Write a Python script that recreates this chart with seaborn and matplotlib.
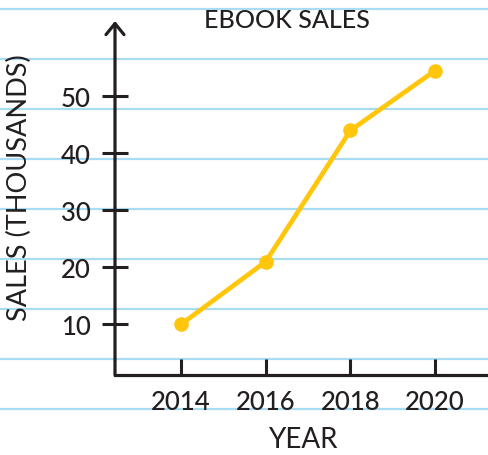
import matplotlib
matplotlib.use("Agg")
import matplotlib.pyplot as plt
import seaborn as sns
import pandas as pd

# Chart data
years = [2014, 2016, 2018, 2020]
sales = [10, 21, 44, 54.5]        # thousands of ebooks
y_ticks = [10, 20, 30, 40, 50]
x_ticks = [2014, 2016, 2018, 2020]

title = "EBOOK SALES"
x_label = "YEAR"
y_label = "SALES (THOUSANDS)"

INK = "#231f20"
YELLOW = "#ffc60b"
RULE = "#a8dcf2"

sns.set_theme(style="white")
plt.rcParams["font.family"] = ["Lato", "DejaVu Sans"]
plt.rcParams["font.weight"] = "medium"

W, H = 488, 456
fig = plt.figure(figsize=(W / 100, H / 100), dpi=100)
fig.patch.set_facecolor("white")

# Notebook paper ruling behind the chart
bg = fig.add_axes([0, 0, 1, 1], zorder=0)
bg.set_xlim(0, W)
bg.set_ylim(H, 0)
for y in range(10, H, 50):
    bg.axhline(y, color=RULE, lw=1.6)
bg.axis("off")

# Main chart area
left, top, bottom = 115, 22, 376
ax = fig.add_axes([left / W, (H - bottom) / H, (W - left) / W, (bottom - top) / H], zorder=1)
ax.set_facecolor("none")

df = pd.DataFrame({"year": years, "sales": sales})
sns.lineplot(data=df, x="year", y="sales", ax=ax, color=YELLOW, lw=3.4,
             marker="o", markersize=10.5, markeredgewidth=0, clip_on=False, zorder=3)

ax.set_xlim(2012.44, 2021.25)
ax.set_ylim(1.12, 63.2)
ax.set_xticks(x_ticks)
ax.set_yticks(y_ticks)
ax.set_xticklabels([str(v) for v in x_ticks])
ax.set_yticklabels([str(v) for v in y_ticks])

for side in ["top", "right", "left"]:
    ax.spines[side].set_visible(False)
ax.spines["bottom"].set_color(INK)
ax.spines["bottom"].set_linewidth(2.3)

# Vertical axis drawn as an arrow
ax.annotate("", xy=(0, 1), xytext=(0, 0), xycoords="axes fraction",
            arrowprops=dict(arrowstyle="->,head_length=0.8,head_width=0.65",
                            lw=2.3, color=INK, shrinkA=0, shrinkB=0,
                            mutation_scale=10))

ax.tick_params(axis="y", direction="inout", length=18.7, width=2.2, color=INK,
               pad=8, labelsize=18.5, labelcolor=INK, left=True)
ax.tick_params(axis="x", direction="in", length=11.5, width=2.2, color=INK,
               pad=10, labelsize=18.5, labelcolor=INK, bottom=True)

ax.set_xlabel(x_label, fontsize=20, color=INK, va="center")
ax.xaxis.set_label_coords(0.504, -0.181)
ax.set_ylabel(y_label, fontsize=19.5, color=INK, va="center", ha="center")
ax.yaxis.set_label_coords(-0.257, 0.531)

ax.text(0.461, 1.0056, title, transform=ax.transAxes, ha="center", va="center",
        fontsize=18, color=INK)

fig.savefig("out.png", dpi=100, facecolor="white")
